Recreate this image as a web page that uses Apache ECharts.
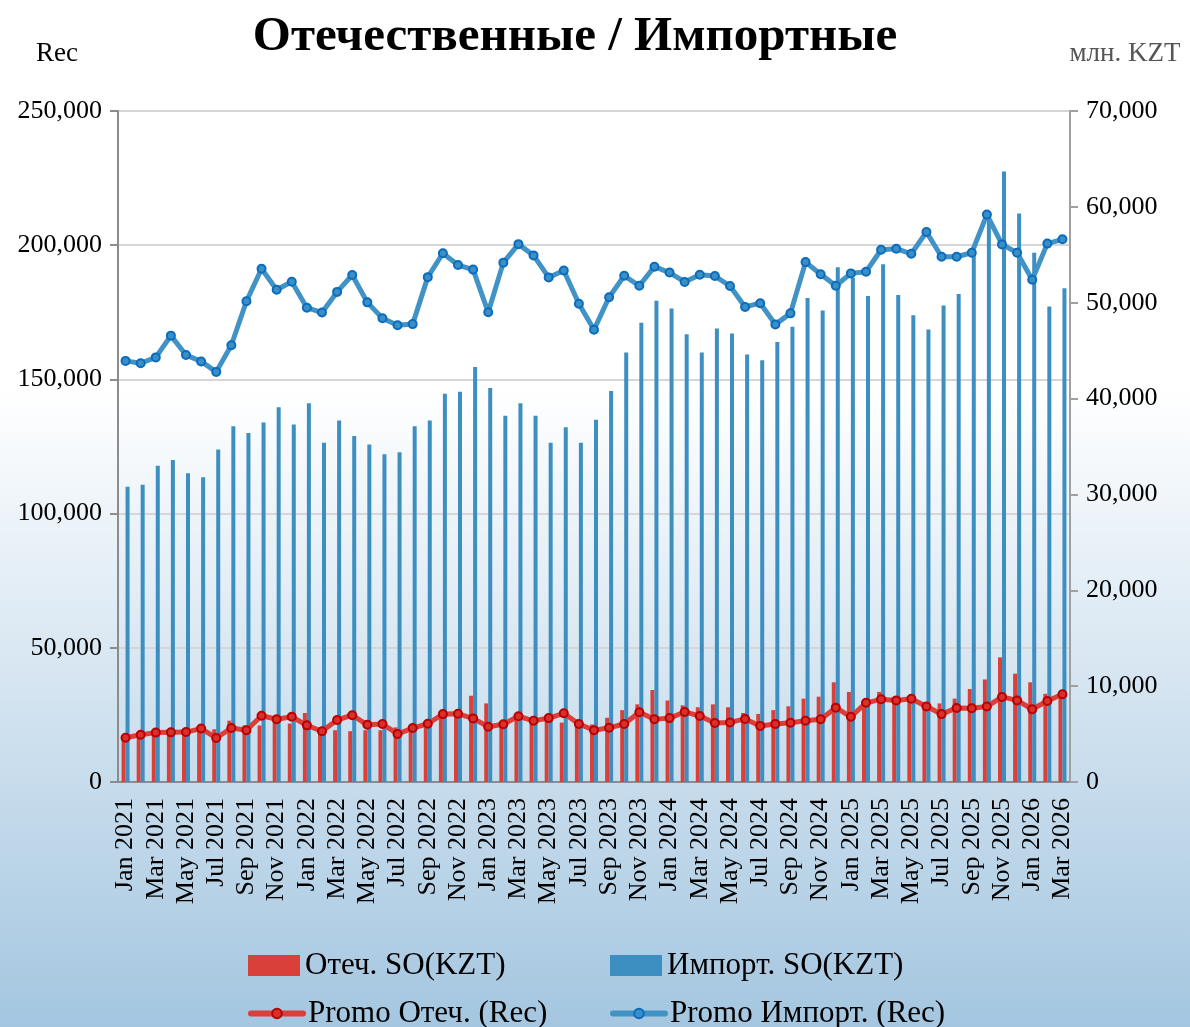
<!DOCTYPE html>
<html>
<head>
<meta charset="utf-8">
<script src="https://cdn.jsdelivr.net/npm/echarts@6/dist/echarts.min.js"></script>
<style>
html,body{margin:0;padding:0;}
#chart{width:1190px;height:1027px;}
</style>
</head>
<body>
<div id="chart"></div>
<script>
const months = ['Jan','Feb','Mar','Apr','May','Jun','Jul','Aug','Sep','Oct','Nov','Dec'];
const categories = [];
for (let y = 2021; y <= 2026; y++) {
  for (let m = 0; m < 12; m++) {
    if (y === 2026 && m > 2) break;
    categories.push(months[m] + ' ' + y);
  }
}

// Отеч. SO(KZT) — right axis, млн. KZT
const domesticSO = [
  4500, 4700, 4900, 4900, 5100, 5400, 5500, 6400, 5900, 5900, 6300, 6100,
  7200, 5100, 5400, 5300, 5400, 5400, 5700, 5400, 5700, 6800, 6800, 9000,
  8200, 5800, 6500, 6100, 6500, 6200, 5800, 6000, 6700, 7500, 8100, 9600,
  8500, 8000, 7800, 8100, 7800, 7200, 7100, 7500, 7900, 8700, 8900, 10400,
  9400, 8400, 9400, 8400, 8600, 7700, 8200, 8700, 9700, 10700, 13000, 11300,
  10400, 9200, 9100
];

// Импорт. SO(KZT) — right axis, млн. KZT
const importSO = [
  30800, 31000, 33000, 33600, 32200, 31800, 34700, 37100, 36400, 37500, 39100, 37300,
  39500, 35400, 37700, 36100, 35200, 34200, 34400, 37100, 37700, 40500, 40700, 43300,
  41100, 38200, 39500, 38200, 35400, 37000, 35400, 37800, 40800, 44800, 47900, 50200,
  49400, 46700, 44800, 47300, 46800, 44600, 44000, 45900, 47500, 50500, 49200, 53700,
  52600, 50700, 54000, 50800, 48700, 47200, 49700, 50900, 55000, 58800, 63700, 59300,
  55200, 49600, 51500
];

// Promo Отеч. (Rec) — left axis
const promoDomestic = [
  16500, 17600, 18400, 18500, 18600, 19900, 16400, 20100, 19300, 24700, 23400, 24300,
  21100, 18900, 23100, 24900, 21300, 21600, 17900, 20100, 21700, 25300, 25400, 23700,
  20600, 21500, 24500, 22800, 23800, 25600, 21600, 19300, 20200, 21600, 26000, 23400,
  23800, 26100, 24600, 22000, 22200, 23500, 20900, 21600, 22100, 22800, 23400, 27700,
  24300, 29500, 30800, 30400, 31000, 28100, 25300, 27600, 27500, 28100, 31700, 30400,
  27100, 30200, 32700
];

// Promo Импорт. (Rec) — left axis
const promoImport = [
  156900, 156000, 158200, 166300, 159100, 156700, 152800, 162700, 179100, 191200, 183400, 186400,
  176700, 174900, 182600, 188900, 178700, 172800, 170200, 170600, 188100, 197000, 192600, 190900,
  175000, 193500, 200400, 196200, 188000, 190600, 178200, 168500, 180600, 188600, 184900, 192000,
  189800, 186300, 189000, 188500, 184800, 177000, 178400, 170500, 174600, 193700, 189200, 184900,
  189500, 190100, 198300, 198700, 196800, 204900, 195700, 195700, 197200, 211400, 200300, 197200,
  187100, 200600, 202200
];

const leftTicks = { min: 0, max: 250000, interval: 50000 };
const rightTicks = { min: 0, max: 70000, interval: 10000 };

const FONT = '"Liberation Serif", "Times New Roman", serif';
const RED = '#d9403a';
const BLUE = '#3d8fc1';

const chart = echarts.init(document.getElementById('chart'), null, { renderer: 'canvas' });
const fmt = v => v.toLocaleString('en-US');

const legendText = { fontFamily: FONT, fontSize: 31, color: '#000' };
function barLegend(name, left, top) {
  return {
    left: left, top: top, itemWidth: 52, itemHeight: 21, itemGap: 10, icon: 'rect',
    data: [name], textStyle: legendText
  };
}
function lineLegend(name, left, top) {
  return {
    left: left, top: top, itemWidth: 52, itemHeight: 12, itemGap: 10,
    lineStyle: { width: 6, cap: 'round' },
    data: [name], textStyle: legendText
  };
}

chart.setOption({
  backgroundColor: {
    type: 'linear', x: 0, y: 0, x2: 0, y2: 1,
    colorStops: [
      { offset: 0, color: '#ffffff' },
      { offset: 0.38, color: '#ffffff' },
      { offset: 1, color: '#a4c6e0' }
    ]
  },
  animation: false,
  title: {
    text: 'Отечественные / Импортные',
    left: 570, top: 8, textAlign: 'center',
    textStyle: { fontFamily: FONT, fontWeight: 'bold', fontSize: 49, color: '#000' }
  },
  grid: { left: 118, right: 120, top: 111, bottom: 245, containLabel: false },
  legend: [
    barLegend('Отеч. SO(KZT)', 243, 945),
    barLegend('Импорт. SO(KZT)', 605, 945),
    lineLegend('Promo Отеч. (Rec)', 243, 993),
    lineLegend('Promo Импорт. (Rec)', 605, 993)
  ],
  xAxis: {
    type: 'category',
    data: categories,
    boundaryGap: true,
    axisLine: { lineStyle: { color: '#8c8c8c', width: 2 } },
    axisTick: { length: 8, lineStyle: { color: '#8c8c8c', width: 2 } },
    axisLabel: {
      interval: 1, rotate: 90, margin: 16,
      fontFamily: FONT, fontSize: 26, color: '#000'
    },
    splitLine: { show: false }
  },
  yAxis: [
    {
      type: 'value', position: 'left',
      min: leftTicks.min, max: leftTicks.max, interval: leftTicks.interval,
      name: 'Rec', nameLocation: 'end', nameGap: 44,
      nameTextStyle: { fontFamily: FONT, fontSize: 27, color: '#000', align: 'center', padding: [0, 122, 0, 0] },
      axisLine: { show: true, lineStyle: { color: '#8c8c8c', width: 2 } },
      axisTick: { show: true, length: 8, lineStyle: { color: '#8c8c8c', width: 2 } },
      axisLabel: { margin: 16, fontFamily: FONT, fontSize: 26, color: '#000', formatter: fmt },
      splitLine: { show: true, lineStyle: { color: '#d6d6d6', width: 2 } }
    },
    {
      type: 'value', position: 'right',
      min: rightTicks.min, max: rightTicks.max, interval: rightTicks.interval,
      name: 'млн. KZT', nameLocation: 'end', nameGap: 44,
      nameTextStyle: { fontFamily: FONT, fontSize: 27, color: '#555', align: 'center', padding: [0, 0, 0, 110] },
      axisLine: { show: true, lineStyle: { color: '#a0a0a0', width: 2 } },
      axisTick: { show: true, length: 8, lineStyle: { color: '#a0a0a0', width: 2 } },
      axisLabel: { margin: 16, fontFamily: FONT, fontSize: 26, color: '#000', formatter: fmt },
      splitLine: { show: false }
    }
  ],
  series: [
    {
      name: 'Отеч. SO(KZT)', type: 'bar', yAxisIndex: 1,
      data: domesticSO, barWidth: 4, barGap: '0%',
      itemStyle: { color: RED }, z: 2
    },
    {
      name: 'Импорт. SO(KZT)', type: 'bar', yAxisIndex: 1,
      data: importSO, barWidth: 4, barGap: '0%',
      itemStyle: { color: BLUE }, z: 2
    },
    {
      name: 'Promo Отеч. (Rec)', type: 'line', yAxisIndex: 0,
      data: promoDomestic, symbol: 'circle', symbolSize: 8, showAllSymbol: true,
      lineStyle: { color: '#dc3f3a', width: 5 },
      itemStyle: { color: '#d9302b', borderColor: '#b80000', borderWidth: 2 },
      z: 5
    },
    {
      name: 'Promo Импорт. (Rec)', type: 'line', yAxisIndex: 0,
      data: promoImport, symbol: 'circle', symbolSize: 8, showAllSymbol: true,
      lineStyle: { color: '#4193c5', width: 5 },
      itemStyle: { color: '#3c8fc4', borderColor: '#0a6cbf', borderWidth: 2 },
      z: 5
    }
  ]
});
</script>
</body>
</html>
